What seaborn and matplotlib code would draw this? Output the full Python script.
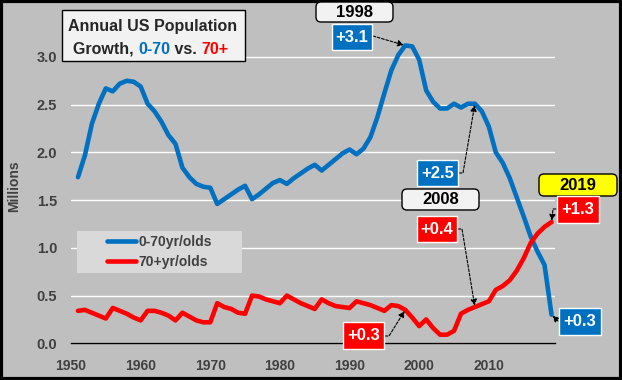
import matplotlib
matplotlib.use('Agg')
import numpy as np
import pandas as pd
import matplotlib.pyplot as plt
import seaborn as sns
from matplotlib.patches import FancyBboxPatch, Rectangle
from matplotlib.lines import Line2D
from matplotlib.text import Annotation

W, H = 622, 380

years = list(range(1951, 2020))
under70 = [1.74, 1.97, 2.30, 2.51, 2.67, 2.64, 2.72, 2.75, 2.74, 2.69,
           2.51, 2.43, 2.32, 2.18, 2.09, 1.84, 1.74, 1.67, 1.64, 1.63,
           1.46, 1.51, 1.56, 1.61, 1.65, 1.51, 1.56, 1.62, 1.68, 1.71,
           1.67, 1.73, 1.78, 1.83, 1.87, 1.81, 1.87, 1.93, 1.99, 2.03,
           1.98, 2.04, 2.16, 2.37, 2.62, 2.86, 3.02, 3.12, 3.11, 2.97,
           2.65, 2.53, 2.46, 2.46, 2.51, 2.47, 2.51, 2.51, 2.43, 2.27,
           2.00, 1.89, 1.73, 1.53, 1.33, 1.12, 0.96, 0.82, 0.30]
over70 = [0.34, 0.35, 0.32, 0.29, 0.26, 0.37, 0.34, 0.31, 0.27, 0.24,
          0.34, 0.34, 0.32, 0.29, 0.24, 0.32, 0.28, 0.24, 0.22, 0.22,
          0.42, 0.38, 0.36, 0.32, 0.31, 0.50, 0.49, 0.46, 0.44, 0.42,
          0.50, 0.46, 0.42, 0.39, 0.36, 0.46, 0.42, 0.39, 0.38, 0.37,
          0.44, 0.42, 0.40, 0.37, 0.34, 0.40, 0.39, 0.35, 0.27, 0.18,
          0.25, 0.16, 0.09, 0.09, 0.13, 0.31, 0.35, 0.38, 0.41, 0.44,
          0.56, 0.60, 0.66, 0.76, 0.89, 1.05, 1.15, 1.22, 1.27]
series_names = ['0-70yr/olds', '70+yr/olds']
BLUE = '#0070c0'
RED = '#ff0000'
BG = '#bfbfbf'
TXT = '#404040'

sns.set_theme(style='white')
plt.rcParams['font.family'] = ['Liberation Sans', 'DejaVu Sans']
plt.rcParams['font.weight'] = 'bold'

df = pd.DataFrame({
    'year': years * 2,
    'millions': under70 + over70,
    'group': [series_names[0]] * len(years) + [series_names[1]] * len(years),
})

fig = plt.figure(figsize=(W / 100, H / 100), dpi=100, facecolor=BG)
ax = fig.add_axes([71 / W, 1 - 343.3 / H, (555 - 71) / W, 315 / H])
ax.set_facecolor(BG)

sns.lineplot(data=df, x='year', y='millions', hue='group',
             palette={series_names[0]: BLUE, series_names[1]: RED},
             lw=3.3, ax=ax, legend=False, solid_joinstyle='round', zorder=3)

ax.set_xlim(1950, 2019.5)
ax.set_ylim(0, 3.3)
yt = np.arange(0, 3.01, 0.5)
ax.set_yticks(yt)
ax.set_yticklabels([f'{v:.1f}' for v in yt])
ax.set_xticks(range(1950, 2011, 10))
ax.grid(axis='y', color='white', lw=1)
ax.grid(axis='x', visible=False)
for s in ['left', 'right', 'top']:
    ax.spines[s].set_visible(False)
ax.spines['bottom'].set_color('black')
ax.spines['bottom'].set_linewidth(1)
ax.tick_params(axis='both', length=0, labelsize=10.5, labelcolor=TXT)
ax.tick_params(axis='y', pad=10)
ax.tick_params(axis='x', pad=11, labelsize=10)
ax.set_xlabel('')
ax.set_ylabel('Millions', fontsize=10, fontweight='bold', color=TXT)
ax.yaxis.set_label_coords((21 - 71) / 484, 0.5)

tr = fig.dpi_scale_trans


def pin(x, y):
    # top-left pixel coords -> inches from bottom-left
    return (x / 100, (H - y) / 100)


def box(x0, y0, x1, y1, fc, ec, rounded=False, lw=1):
    style = 'round,pad=0,rounding_size=0.05' if rounded else 'square,pad=0'
    p = FancyBboxPatch(pin(x0, y1), (x1 - x0) / 100, (y1 - y0) / 100,
                       boxstyle=style, fc=fc, ec=ec, lw=lw, transform=tr,
                       zorder=4)
    fig.add_artist(p)


def label(x0, y0, x1, y1, text, fc, ec, tc, size, rounded=False):
    box(x0, y0, x1, y1, fc, ec, rounded)
    fig.text(*pin((x0 + x1) / 2, (y0 + y1) / 2 + 0.5), text, transform=tr,
             ha='center', va='center', color=tc, fontsize=size,
             fontweight='bold', zorder=6)


def arrow(start, yr, val, angle=None, arm=5):
    if angle is None:
        cs = 'arc3,rad=0'
    else:
        cs = f'arc,angleA={angle},armA={arm},angleB=0,armB=0,rad=0'
    ax.annotate('', xy=(yr, val), xycoords='data', xytext=pin(*start),
                textcoords=tr, zorder=7, annotation_clip=False,
                arrowprops=dict(arrowstyle='-|>', color='black', lw=0.8,
                                ls=(0, (2.5, 1.5)), mutation_scale=9,
                                shrinkA=0, shrinkB=1, connectionstyle=cs))


i98 = years.index(1998)
i08 = years.index(2008)
i19 = years.index(2019)

# title box
box(62, 10, 245, 61, '#f2f2f2', 'black')
fig.text(*pin(153, 26), 'Annual US Population', transform=tr, ha='center',
         va='center', fontsize=11.5, fontweight='bold', color='#262626',
         zorder=6)
t = fig.text(*pin(73, 54), 'Growth, ', transform=tr, ha='left',
             va='baseline', fontsize=11.5, fontweight='bold',
             color='#262626', zorder=6)
for piece, col in [('0-70', BLUE), (' vs. ', '#262626'), ('70+', RED)]:
    t = Annotation(piece, xy=(1, 0), xycoords=t, ha='left', va='bottom',
                   fontsize=11.5, fontweight='bold', color=col, zorder=6,
                   annotation_clip=False)
    fig.add_artist(t)

# legend
box(77, 231, 242, 273, '#d9d9d9', 'none')
handles = [Line2D([], [], color=BLUE, lw=3.3), Line2D([], [], color=RED, lw=3.3)]
leg = fig.legend(handles, series_names, loc='upper left',
                 bbox_to_anchor=pin(107, 235), bbox_transform=tr,
                 frameon=False, fontsize=10, handlelength=2.1,
                 handletextpad=0.15, labelspacing=0.4, borderpad=0,
                 borderaxespad=0)
for txt in leg.get_texts():
    txt.set_color(TXT)
    txt.set_fontweight('bold')
leg.set_zorder(6)

# call-outs
label(316, 2, 393, 22, '1998', '#f2f2f2', 'black', 'black', 12, rounded=True)
label(332, 24, 372, 50, '+3.1', BLUE, 'white', 'white', 12)
arrow((373, 36), years[i98], under70[i98])

label(417, 160, 458, 186, '+2.5', BLUE, 'white', 'white', 12)
arrow((459, 173), years[i08], under70[i08], angle=0, arm=4)

label(402, 189, 479, 210, '2008', '#f2f2f2', 'black', 'black', 12, rounded=True)
label(417, 216, 457, 242, '+0.4', RED, 'white', 'white', 12)
arrow((458, 229), years[i08], over70[i08], angle=0, arm=4)

label(343, 322, 384, 349, '+0.3', RED, 'white', 'white', 12)
arrow((385, 336), years[i98], over70[i98], angle=0, arm=4)

label(539, 174, 617, 196, '2019', '#ffff00', 'black', 'black', 12, rounded=True)
label(557, 196, 599, 223, '+1.3', RED, 'white', 'white', 12)
arrow((556, 209), years[i19], over70[i19], angle=180, arm=3)

label(559, 308, 601, 335, '+0.3', BLUE, 'white', 'white', 12)
arrow((558, 321), years[i19], under70[i19])

# outer frame
fig.add_artist(Rectangle((0.0015, 0.0025), 0.997, 0.995, fill=False,
                         ec='black', lw=3, transform=fig.transFigure))

fig.savefig('out.png', dpi=100, facecolor=BG)
